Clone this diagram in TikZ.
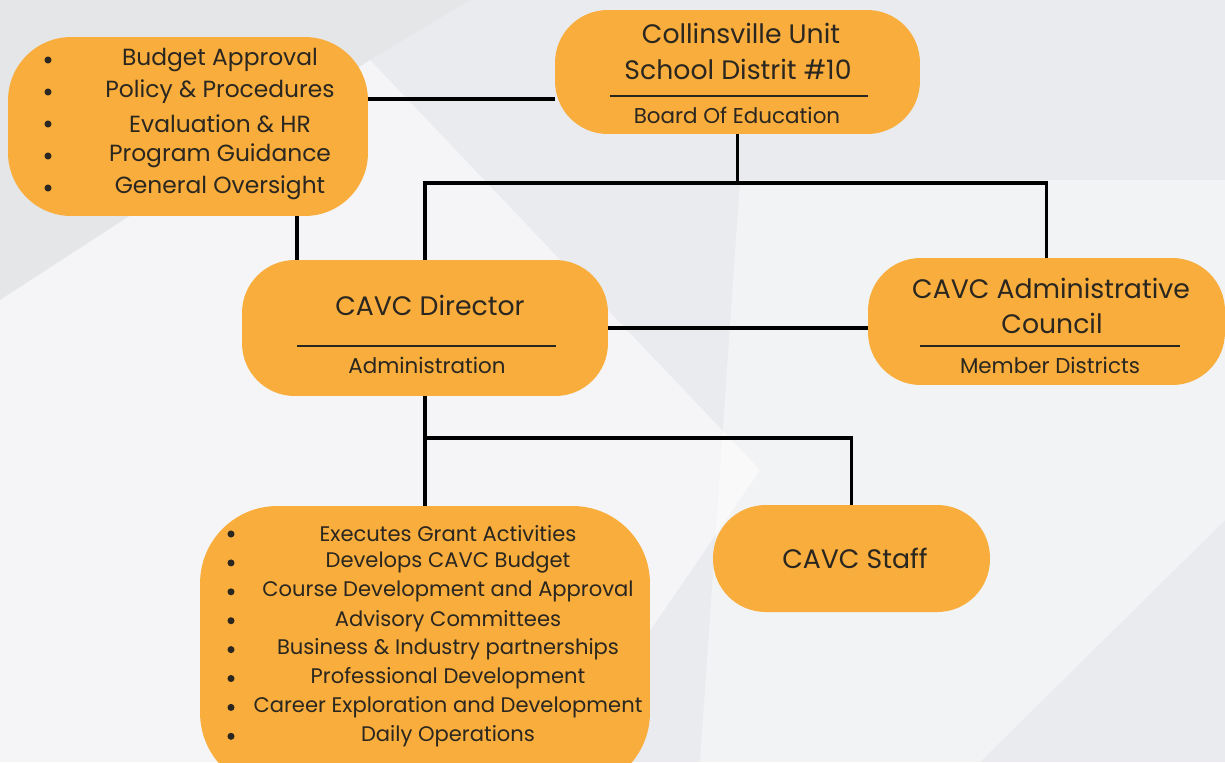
\documentclass[tikz,border=0pt]{standalone}
\usepackage{fontspec}
\setmainfont{Poppins}
\usetikzlibrary{calc,positioning}
\definecolor{boxorange}{HTML}{F8AD3C}
\definecolor{ink}{HTML}{2A2620}
\definecolor{bgray}{HTML}{E9EBEE}

\tikzset{
  box/.style={fill=boxorange, draw=none, rounded corners=30pt, inner sep=0pt},
  link/.style={draw=black, line width=2.2pt},
  rule/.style={draw=ink, line width=0.6pt},
  title/.style={text=ink, font=\fontsize{15.2}{18}\selectfont},
  sub/.style={text=ink, font=\fontsize{12.2}{14}\selectfont},
  item/.style={text=ink, font=\fontsize{13.3}{15}\selectfont, inner sep=0pt},
  duty/.style={text=ink, font=\fontsize{12}{14}\selectfont, inner sep=0pt},
  dot/.style={fill=ink, circle, inner sep=0pt, minimum size=4pt}
}

\begin{document}
\begin{tikzpicture}[x=0.02cm, y=-0.02cm]
  \useasboundingbox (0,0) rectangle (1225,762);
  \clip (0,0) rectangle (1225,762);
  % background
  \fill[bgray] (0,0) rectangle (1225,762);
  \fill[white, opacity=0.55] (370,60) -- (760,470) -- (560,762) -- (0,762) -- (0,300) -- cycle;
  \fill[white, opacity=0.4] (740,180) -- (1225,180) -- (1225,520) -- (980,762) -- (700,762) -- cycle;
  \fill[gray!25, opacity=0.35] (0,0) -- (470,0) -- (370,60) -- (0,300) -- cycle;

  % boxes
  \node[box, rounded corners=36pt, minimum width=7.2cm, minimum height=3.58cm] (oversight) at (188,126.5) {};
  \node[box, minimum width=7.3cm, minimum height=2.48cm] (board) at (737.5,72) {};
  \node[box, minimum width=7.32cm, minimum height=2.72cm] (director) at (425,328) {};
  \node[box, minimum width=7.14cm, minimum height=2.54cm] (council) at (1046.5,321.5) {};
  \node[box, minimum width=5.54cm, minimum height=2.14cm] (staff) at (851.5,558.5) {};
  \node[box, rounded corners=44pt, minimum width=9cm, minimum height=5.68cm] (duties) at (425,648) {};

  % connectors
  \coordinate (tap) at (297,99);
  \draw[link] (oversight.east |- tap) -- (board.west |- tap);
  \draw[link] (board.south) -- ++(0,49) coordinate (bus1);
  \draw[link] (director.north) -- (director.north |- bus1) -- (council.north |- bus1) -- (council.north);
  \draw[link] (oversight.south -| tap) -- (director.north -| tap);
  \draw[link] (director.east) -- (director.east -| council.west);
  \draw[link] (director.south) -- (duties.north);
  \draw[link] (director.south) ++(0,42) coordinate (bus2) -- (bus2 -| staff.north) -- (staff.north);

  % board of education
  \node[title] (bt1) at (741,33) {Collinsville Unit};
  \node[title] (bt2) at (738,69) {School Distrit \#10};
  \draw[rule] (610,96) -- (868,96);
  \node[sub] (bs) at (737,115) {Board Of Education};

  % director
  \node[title] (dt) at (430,305) {CAVC Director};
  \draw[rule] (297,346) -- (556,346);
  \node[sub] (ds) at (427,365) {Administration};

  % council
  \node[title] (ct1) at (1051,288) {CAVC Administrative};
  \node[title] (ct2) at (1052,323) {Council};
  \draw[rule] (920,346) -- (1180,346);
  \node[sub] (cs) at (1050,365) {Member Districts};

  % staff
  \node[title] (st) at (855,558) {CAVC Staff};

  % oversight list
  \foreach \t [count=\i] in {Budget Approval, Policy \& Procedures, Evaluation \& HR, Program Guidance, General Oversight} {
    \node[dot] (ob\i) at (48,{60+32*(\i-1)}) {};
    \node[item] (ov\i) at (220,{60+32*(\i-1)}) {\t};
  }

  % duties list
  \foreach \t [count=\i] in {Executes Grant Activities, Develops CAVC Budget, Course Development and Approval, Advisory Committees, Business \& Industry partnerships, Professional Development, Career Exploration and Development, Daily Operations} {
    \node[dot] (db\i) at (231,{534+28.9*(\i-1)}) {};
    \node[duty] (du\i) at (448,{534+28.9*(\i-1)}) {\t};
  }
\end{tikzpicture}
\end{document}
